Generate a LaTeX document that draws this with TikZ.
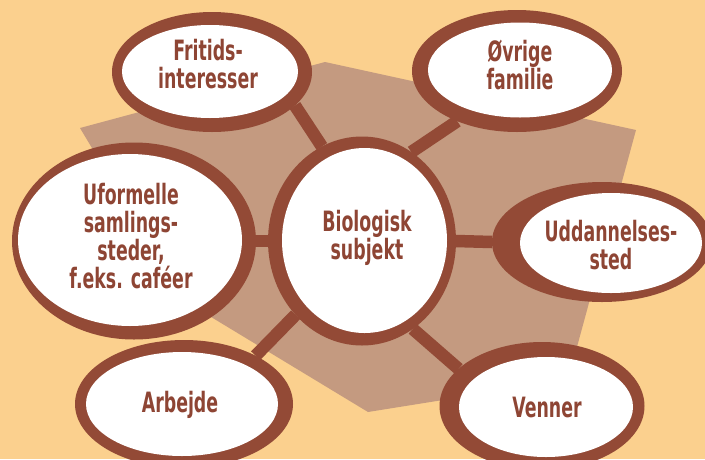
\documentclass[tikz,border=0pt]{standalone}
\usepackage{fontspec}
\newfontfamily\lblfont{DejaVu Sans}[FakeStretch=0.62]
\usetikzlibrary{shapes.geometric,backgrounds}
\definecolor{bg}{HTML}{FBD08E}
\definecolor{tanc}{HTML}{C49A80}
\definecolor{brn}{HTML}{934A36}
\definecolor{txt}{HTML}{8E4534}
\begin{document}
\begin{tikzpicture}[x=1pt,y=-1pt,
  outerell/.style={ellipse,fill=brn,draw=none,inner sep=0pt,outer sep=0pt},
  innerell/.style={ellipse,fill=white,draw=none,inner sep=0pt,outer sep=0pt},
  lbl/.style={text=txt,align=center,inner sep=0pt,font=\lblfont\bfseries\fontsize{28}{28}\selectfont},
  conn/.style={draw=brn,line width=12.5pt}]
\useasboundingbox (0,0) rectangle (705,459);

% outer ellipses
\node[outerell,minimum width=200pt,minimum height=120pt] (fo) at (212,72) {};
\node[innerell,minimum width=176pt,minimum height=93pt] (fi) at (210,71.5) {};
\node[lbl] (ft) at (208,64) {Fritids-\\interesser};

\node[outerell,minimum width=210pt,minimum height=122pt] (oo) at (517,71) {};
\node[innerell,minimum width=184pt,minimum height=95pt] (oi) at (520,70) {};
\node[lbl] (ot) at (520,65) {Øvrige\\familie};

\node[outerell,minimum width=244pt,minimum height=197pt] (uo) at (134,241) {};
\node[innerell,minimum width=224pt,minimum height=172pt] (ui) at (130,240) {};
\node[lbl] (ut) at (131,236) {Uformelle\\samlings-\\steder,\\f.eks. caféer};

\node[outerell,minimum width=188pt,minimum height=209pt] (co) at (362,241) {};
\node[innerell,minimum width=165pt,minimum height=185pt] (ci) at (364.5,240.5) {};
\node[lbl] (ct) at (367,238) {Biologisk\\subjekt};

\node[outerell,minimum width=220pt,minimum height=120pt] (do) at (602,242) {};
\node[innerell,minimum width=182pt,minimum height=100pt] (di) at (611,243) {};
\node[lbl] (dt) at (611,245) {Uddannelses-\\sted};

\node[outerell,minimum width=218pt,minimum height=128pt] (ao) at (184,404) {};
\node[innerell,minimum width=192pt,minimum height=104pt] (ai) at (182,404) {};
\node[lbl] (at) at (180,405) {Arbejde};

\node[outerell,minimum width=205pt,minimum height=128pt] (vo) at (542,406) {};
\node[innerell,minimum width=174pt,minimum height=100pt] (vi) at (546,407) {};
\node[lbl] (vt) at (547,407) {Venner};

\begin{scope}[on background layer]
  \fill[bg] (0,0) rectangle (705,459);
  \fill[tanc] (80,128) -- (325,62) -- (636,130) -- (568,380) -- (368,412) -- (183,300) -- cycle;
  \draw[conn] (co.113) -- (fo.-22);
  \draw[conn] (co.61) -- (oo.220);
  \draw[conn] (co.180) -- (uo.0);
  \draw[conn] (co.0) -- (do.180);
  \draw[conn] (co.228) -- (ao.34);
  \draw[conn] (co.-60) -- (vo.156);
\end{scope}
\end{tikzpicture}
\end{document}
